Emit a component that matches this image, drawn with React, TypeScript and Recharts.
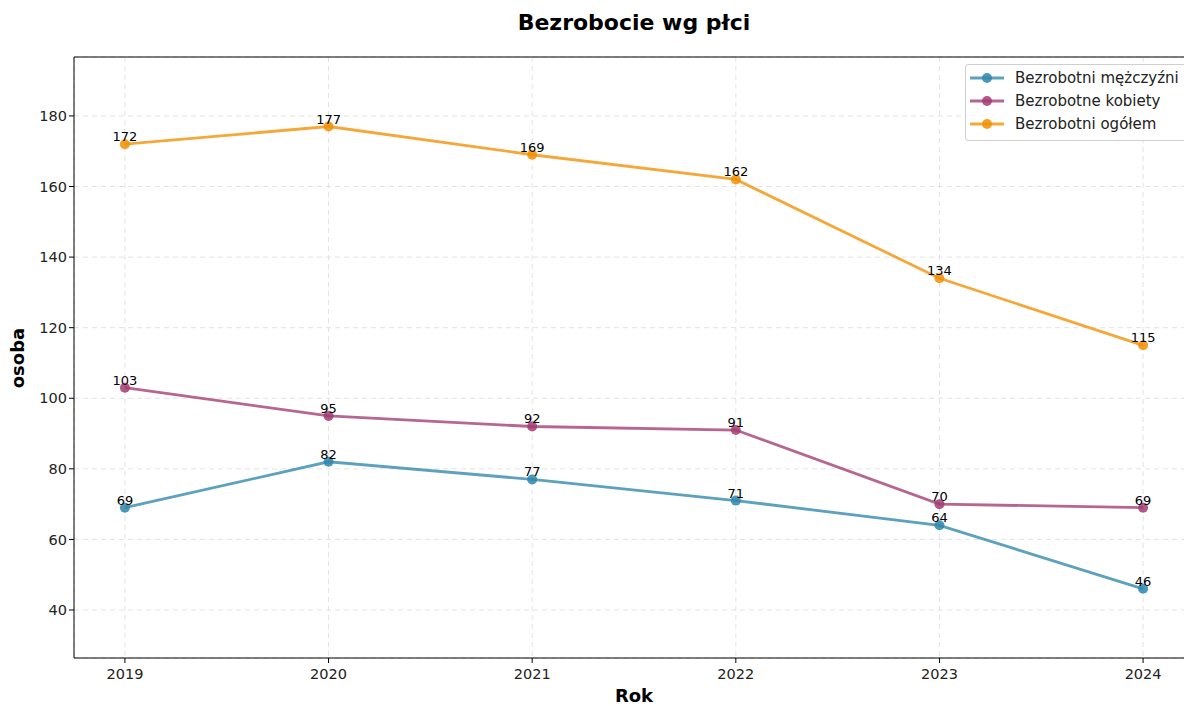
import { CartesianGrid, LabelList, Line, LineChart, ReferenceLine, XAxis, YAxis } from "recharts";

const years = [2019, 2020, 2021, 2022, 2023, 2024];
const men = [69, 82, 77, 71, 64, 46];
const women = [103, 95, 92, 91, 70, 69];
const total = [172, 177, 169, 162, 134, 115];
const yTicks = [40, 60, 80, 100, 120, 140, 160, 180];

const series = [
  { key: "men", name: "Bezrobotni mężczyźni", color: "#2E86AB" },
  { key: "women", name: "Bezrobotne kobiety", color: "#A23B72" },
  { key: "total", name: "Bezrobotni ogółem", color: "#F18F01" },
];

const data = years.map((year, i) => ({
  year,
  men: men[i],
  women: women[i],
  total: total[i],
}));

const FONT = "'DejaVu Sans', sans-serif";
const Y_MAX = 196.7;

const PointLabel = (props: any) => {
  const { x, y, value } = props;
  return (
    <text x={x} y={y - 3} textAnchor="middle" fontSize={13} fontFamily={FONT} fill="#000">
      {value}
    </text>
  );
};

export default function App() {
  return (
    <div
      style={{
        position: "absolute",
        left: 0,
        top: 0,
        width: 1184,
        height: 706,
        overflow: "hidden",
        background: "#fff",
        fontFamily: FONT,
      }}
    >
      <LineChart
        width={1220}
        height={706}
        data={data}
        margin={{ top: 57, right: 26, bottom: 8, left: 14 }}
      >
        <CartesianGrid stroke="#e3e3e3" strokeDasharray="5 4" />
        <XAxis
          dataKey="year"
          type="number"
          domain={[2018.75, 2024.25]}
          ticks={years}
          allowDataOverflow
          height={40}
          stroke="#000"
          tickSize={5}
          tick={{ fill: "#222", fontSize: 14.5, fontFamily: FONT, dy: 4 }}
        />
        <YAxis
          type="number"
          domain={[26.4, Y_MAX]}
          ticks={yTicks}
          allowDataOverflow
          width={60}
          stroke="#000"
          tickSize={5}
          tick={{ fill: "#222", fontSize: 14.5, fontFamily: FONT }}
        />
        <ReferenceLine y={Y_MAX} stroke="#000" strokeWidth={1} />
        {series.map((s) => (
          <Line
            key={s.key}
            dataKey={s.key}
            name={s.name}
            stroke={s.color}
            strokeOpacity={0.78}
            strokeWidth={2.8}
            dot={{ r: 5, fill: s.color, fillOpacity: 0.85, stroke: "none" }}
            activeDot={false}
            isAnimationActive={false}
          >
            <LabelList dataKey={s.key} content={PointLabel} />
          </Line>
        ))}
      </LineChart>

      <div
        style={{
          position: "absolute",
          left: 0,
          width: 1268,
          top: 12,
          lineHeight: "22px",
          textAlign: "center",
          fontSize: 22,
          fontWeight: "bold",
          color: "#000",
        }}
      >
        Bezrobocie wg płci
      </div>
      <div
        style={{
          position: "absolute",
          left: 0,
          width: 1268,
          top: 688,
          lineHeight: "16px",
          textAlign: "center",
          fontSize: 18,
          fontWeight: "bold",
          color: "#000",
        }}
      >
        Rok
      </div>
      <div
        style={{
          position: "absolute",
          left: 18,
          top: 358,
          lineHeight: "18px",
          transform: "translate(-50%, -50%) rotate(-90deg)",
          fontSize: 18,
          fontWeight: "bold",
          color: "#000",
          whiteSpace: "nowrap",
        }}
      >
        osoba
      </div>

      <div
        style={{
          position: "absolute",
          left: 965,
          top: 64,
          width: 240,
          height: 75,
          border: "1px solid #d0d0d0",
          borderRadius: 3,
          background: "rgba(255,255,255,0.85)",
        }}
      >
        {series.map((s, i) => (
          <div
            key={s.key}
            style={{
              position: "absolute",
              left: 4,
              top: 3 + i * 23,
              height: 20,
              display: "flex",
              alignItems: "center",
              fontSize: 15,
              color: "#222",
              whiteSpace: "nowrap",
            }}
          >
            <svg width={34} height={12} style={{ marginRight: 11 }}>
              <line x1={0} y1={6} x2={34} y2={6} stroke={s.color} strokeOpacity={0.78} strokeWidth={2.8} />
              <circle cx={17} cy={6} r={5} fill={s.color} fillOpacity={0.85} />
            </svg>
            {s.name}
          </div>
        ))}
      </div>
    </div>
  );
}
